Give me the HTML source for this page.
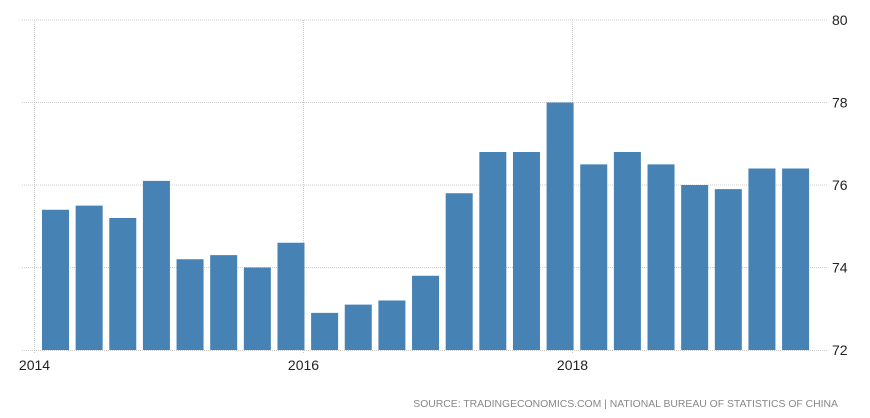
<!DOCTYPE html>
<html><head><meta charset="utf-8"><style>
body{margin:0;background:#fff;}
svg{display:block;font-family:"Liberation Sans",sans-serif;}
</style></head><body>
<svg id="c" width="870" height="418">
<g id="grid"></g>
<g id="bars"></g>
<g id="yax"></g>
<g id="xax"></g>
<text x="838" y="407" text-anchor="end" font-size="10.4" fill="#888" letter-spacing="0">SOURCE: TRADINGECONOMICS.COM | NATIONAL BUREAU OF STATISTICS OF CHINA</text>
</svg>
<script>
const values=[75.4,75.5,75.2,76.1,74.2,74.3,74.0,74.6,72.9,73.1,73.2,73.8,75.8,76.8,76.8,78.0,76.5,76.8,76.5,76.0,75.9,76.4,76.4];
const yTicks=[72,74,76,78,80];
const xLabels=["2014","2016","2018"];
const xLabelIdx=[-0.25,7.75,15.75];
const NS="http://www.w3.org/2000/svg";
const y=v=>350-(v-72)*(330/8);
const x=i=>42+i*33.64;
const bw=27;
function mk(t,a,p){const e=document.createElementNS(NS,t);for(const k in a)e.setAttribute(k,a[k]);p.appendChild(e);return e;}
const grid=document.getElementById('grid'),bars=document.getElementById('bars'),yax=document.getElementById('yax'),xax=document.getElementById('xax');
yTicks.forEach(t=>{
 if(t>72){const l=mk('line',{x1:22,x2:828,y1:y(t),y2:y(t),stroke:'#ccc','stroke-dasharray':'1,1'},grid);
 
 }
 const tx=mk('text',{x:832,y:y(t)+5,'font-size':14,fill:'#222'},yax);tx.textContent=t;
 
 
});
xLabelIdx.forEach((idx,k)=>{
 const px=Math.round(x(idx))+0.5;
 const l=mk('line',{x1:px,x2:px,y1:20,y2:354,stroke:'#ccc','stroke-dasharray':'1,1'},grid);
 
 
 const tx=mk('text',{x:px,y:370,'font-size':14,fill:'#222','text-anchor':'middle'},xax);tx.textContent=xLabels[k];
 
 
});
const ax=mk('line',{x1:22,x2:828,y1:350.5,y2:350.5,stroke:'#ccc','stroke-dasharray':'1,1'},xax);


values.forEach((v,i)=>{
 const r=mk('rect',{x:x(i),y:y(v),width:bw,height:350-y(v),fill:'#4682b4'},bars);
 
 
});
</script>
</body></html>
